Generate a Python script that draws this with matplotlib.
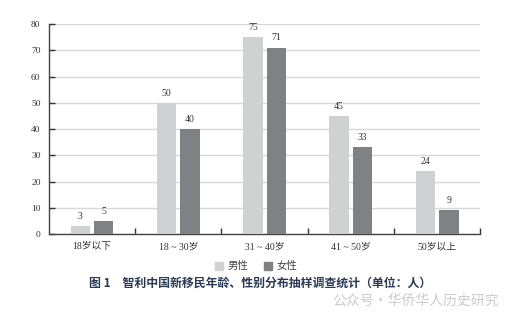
import matplotlib
matplotlib.use("Agg")
import matplotlib.pyplot as plt
import numpy as np
from matplotlib.patches import Patch

categories = ["18岁以下", "18 ~ 30岁", "31 ~ 40岁", "41 ~ 50岁", "50岁以上"]
male = [3, 50, 75, 45, 24]
female = [5, 40, 71, 33, 9]
series_names = ["男性", "女性"]
yticks = [0, 10, 20, 30, 40, 50, 60, 70, 80]

c_male = "#d0d1d3"
c_female = "#808184"
serif = ["Liberation Serif", "Noto Sans CJK SC"]

fig = plt.figure(figsize=(5.26, 3.12), dpi=100)
ax = fig.add_axes([0.093, 0.25, 0.82, 0.673])

x = np.arange(len(categories))
w = 0.225
off = 0.136
b1 = ax.bar(x - off, male, w, color=c_male, zorder=3)
b2 = ax.bar(x + off, female, w, color=c_female, zorder=3)
for bars, vals in ((b1, male), (b2, female)):
    for r, v in zip(bars, vals):
        ax.text(r.get_x() + r.get_width() / 2, v + 2.0, str(v), ha="center",
                va="bottom", fontsize=7, family=serif, color="#333333")

ax.set_xlim(-0.5, len(categories) - 0.5)
ax.set_ylim(0, 80)
ax.set_yticks(yticks)
ax.set_yticklabels([str(t) for t in yticks], family=serif, fontsize=6.8, color="#333333")
ax.set_xticks(x)
ax.set_xticklabels(categories, family=serif, fontsize=7, color="#333333")
ax.tick_params(axis="x", length=0, pad=6)
ax.set_xticks(np.arange(0.5, len(categories), 1.0), minor=True)
ax.tick_params(axis="x", which="minor", direction="in", length=4, width=1, color="#333333")
ax.tick_params(axis="y", direction="in", length=4, width=1, color="#333333", pad=6)

ax.yaxis.grid(True, color="#d8d8d8", linewidth=1, zorder=0)
ax.set_axisbelow(True)
for s in ("top", "right"):
    ax.spines[s].set_visible(False)
ax.spines["left"].set_color("#444444")
ax.spines["bottom"].set_color("#444444")
ax.spines["left"].set_linewidth(1)
ax.spines["bottom"].set_linewidth(1)

handles = [Patch(color=c_male), Patch(color=c_female)]
fig.legend(handles, series_names, loc="center", bbox_to_anchor=(0.487, 0.147), ncol=2,
           frameon=False, prop={"family": serif, "size": 7.5}, handlelength=0.8,
           handleheight=0.8, handletextpad=0.4, columnspacing=1.5, labelcolor="#444444")

fig.text(0.494, 0.093, "图 1　智利中国新移民年龄、性别分布抽样调查统计（单位：人）",
         ha="center", va="center", fontsize=8.6, fontweight="bold",
         family=["Noto Sans CJK SC", "DejaVu Sans"], color="#2a3a55")
fig.text(0.79, 0.035, "公众号・华侨华人历史研究", ha="center", va="center", fontsize=10,
         family=["Noto Sans CJK SC", "DejaVu Sans"], color="#bbbbbb", alpha=0.75)

fig.savefig("out.png", dpi=100)
